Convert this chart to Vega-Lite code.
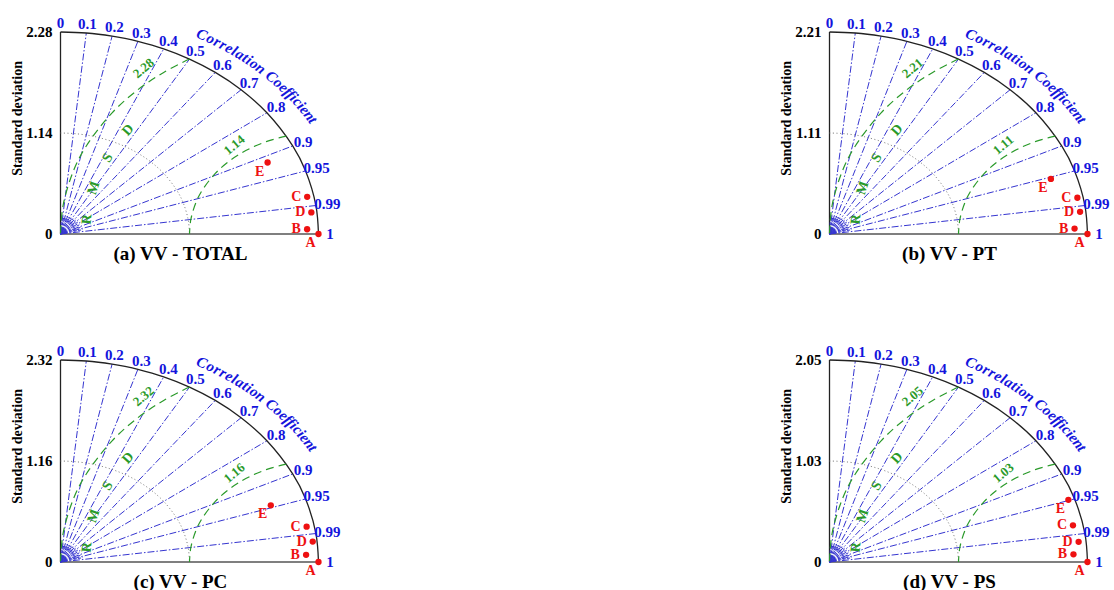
{
 "$schema": "https://vega.github.io/schema/vega-lite/v6.json",
 "background": "white",
 "padding": {"left": 10.5, "top": 15, "right": 5, "bottom": 5},
 "datasets": {
  "panels": [
   {"panel": "(a) VV - TOTAL", "S": 2.28, "half": 1.14},
   {"panel": "(b) VV - PT", "S": 2.21, "half": 1.11},
   {"panel": "(c) VV - PC", "S": 2.32, "half": 1.16},
   {"panel": "(d) VV - PS", "S": 2.05, "half": 1.03}
  ],
  "main": [
   {"kind": "tick", "c": 0, "panel": ["(a) VV - TOTAL", "(b) VV - PT", "(c) VV - PC", "(d) VV - PS"]},
   {"kind": "tick", "c": 0.1, "panel": ["(a) VV - TOTAL", "(b) VV - PT", "(c) VV - PC", "(d) VV - PS"]},
   {"kind": "tick", "c": 0.2, "panel": ["(a) VV - TOTAL", "(b) VV - PT", "(c) VV - PC", "(d) VV - PS"]},
   {"kind": "tick", "c": 0.3, "panel": ["(a) VV - TOTAL", "(b) VV - PT", "(c) VV - PC", "(d) VV - PS"]},
   {"kind": "tick", "c": 0.4, "panel": ["(a) VV - TOTAL", "(b) VV - PT", "(c) VV - PC", "(d) VV - PS"]},
   {"kind": "tick", "c": 0.5, "panel": ["(a) VV - TOTAL", "(b) VV - PT", "(c) VV - PC", "(d) VV - PS"]},
   {"kind": "tick", "c": 0.6, "panel": ["(a) VV - TOTAL", "(b) VV - PT", "(c) VV - PC", "(d) VV - PS"]},
   {"kind": "tick", "c": 0.7, "panel": ["(a) VV - TOTAL", "(b) VV - PT", "(c) VV - PC", "(d) VV - PS"]},
   {"kind": "tick", "c": 0.8, "panel": ["(a) VV - TOTAL", "(b) VV - PT", "(c) VV - PC", "(d) VV - PS"]},
   {"kind": "tick", "c": 0.9, "panel": ["(a) VV - TOTAL", "(b) VV - PT", "(c) VV - PC", "(d) VV - PS"]},
   {"kind": "tick", "c": 0.95, "panel": ["(a) VV - TOTAL", "(b) VV - PT", "(c) VV - PC", "(d) VV - PS"]},
   {"kind": "tick", "c": 0.99, "panel": ["(a) VV - TOTAL", "(b) VV - PT", "(c) VV - PC", "(d) VV - PS"]},
   {"kind": "tick", "c": 1, "panel": ["(a) VV - TOTAL", "(b) VV - PT", "(c) VV - PC", "(d) VV - PS"]},
   {"kind": "node", "c": 0.25, "panel": ["(a) VV - TOTAL", "(b) VV - PT", "(c) VV - PC", "(d) VV - PS"]},
   {"kind": "minor", "c": 0.05, "panel": ["(a) VV - TOTAL", "(b) VV - PT", "(c) VV - PC", "(d) VV - PS"]},
   {"kind": "minor", "c": 0.15, "panel": ["(a) VV - TOTAL", "(b) VV - PT", "(c) VV - PC", "(d) VV - PS"]},
   {"kind": "minor", "c": 0.25, "panel": ["(a) VV - TOTAL", "(b) VV - PT", "(c) VV - PC", "(d) VV - PS"]},
   {"kind": "minor", "c": 0.35, "panel": ["(a) VV - TOTAL", "(b) VV - PT", "(c) VV - PC", "(d) VV - PS"]},
   {"kind": "minor", "c": 0.45, "panel": ["(a) VV - TOTAL", "(b) VV - PT", "(c) VV - PC", "(d) VV - PS"]},
   {"kind": "minor", "c": 0.55, "panel": ["(a) VV - TOTAL", "(b) VV - PT", "(c) VV - PC", "(d) VV - PS"]},
   {"kind": "minor", "c": 0.65, "panel": ["(a) VV - TOTAL", "(b) VV - PT", "(c) VV - PC", "(d) VV - PS"]},
   {"kind": "minor", "c": 0.75, "panel": ["(a) VV - TOTAL", "(b) VV - PT", "(c) VV - PC", "(d) VV - PS"]},
   {"kind": "minor", "c": 0.85, "panel": ["(a) VV - TOTAL", "(b) VV - PT", "(c) VV - PC", "(d) VV - PS"]},
   {"kind": "minor", "c": 0.92, "panel": ["(a) VV - TOTAL", "(b) VV - PT", "(c) VV - PC", "(d) VV - PS"]},
   {"kind": "minor", "c": 0.97, "panel": ["(a) VV - TOTAL", "(b) VV - PT", "(c) VV - PC", "(d) VV - PS"]},
   {"kind": "cc", "s": "Correlation Coefficient", "panel": ["(a) VV - TOTAL", "(b) VV - PT", "(c) VV - PC", "(d) VV - PS"]},
   {"kind": "rm", "s": "RMSD", "panel": ["(a) VV - TOTAL", "(b) VV - PT", "(c) VV - PC", "(d) VV - PS"]},
   {"kind": "panel", "panel": ["(a) VV - TOTAL"]},
   {"kind": "panel", "panel": ["(b) VV - PT"]},
   {"kind": "panel", "panel": ["(c) VV - PC"]},
   {"kind": "panel", "panel": ["(d) VV - PS"]},
   {"kind": "pt", "panel": ["(a) VV - TOTAL"], "model": "A", "sd": 2.28, "corr": 1},
   {"kind": "pt", "panel": ["(a) VV - TOTAL"], "model": "B", "sd": 2.18, "corr": 0.9997},
   {"kind": "pt", "panel": ["(a) VV - TOTAL"], "model": "C", "sd": 2.22, "corr": 0.982},
   {"kind": "pt", "panel": ["(a) VV - TOTAL"], "model": "D", "sd": 2.23, "corr": 0.994},
   {"kind": "pt", "panel": ["(a) VV - TOTAL"], "model": "E", "sd": 2.0, "corr": 0.915},
   {"kind": "pt", "panel": ["(b) VV - PT"], "model": "A", "sd": 2.21, "corr": 1},
   {"kind": "pt", "panel": ["(b) VV - PT"], "model": "B", "sd": 2.1, "corr": 0.9996},
   {"kind": "pt", "panel": ["(b) VV - PT"], "model": "C", "sd": 2.16, "corr": 0.983},
   {"kind": "pt", "panel": ["(b) VV - PT"], "model": "D", "sd": 2.16, "corr": 0.9937},
   {"kind": "pt", "panel": ["(b) VV - PT"], "model": "E", "sd": 1.99, "corr": 0.953},
   {"kind": "pt", "panel": ["(c) VV - PC"], "model": "A", "sd": 2.32, "corr": 1},
   {"kind": "pt", "panel": ["(c) VV - PC"], "model": "B", "sd": 2.21, "corr": 0.9993},
   {"kind": "pt", "panel": ["(c) VV - PC"], "model": "C", "sd": 2.25, "corr": 0.9836},
   {"kind": "pt", "panel": ["(c) VV - PC"], "model": "D", "sd": 2.28, "corr": 0.9947},
   {"kind": "pt", "panel": ["(c) VV - PC"], "model": "E", "sd": 2.0, "corr": 0.9455},
   {"kind": "pt", "panel": ["(d) VV - PS"], "model": "A", "sd": 2.05, "corr": 1},
   {"kind": "pt", "panel": ["(d) VV - PS"], "model": "B", "sd": 1.94, "corr": 0.9992},
   {"kind": "pt", "panel": ["(d) VV - PS"], "model": "C", "sd": 1.97, "corr": 0.982},
   {"kind": "pt", "panel": ["(d) VV - PS"], "model": "D", "sd": 1.99, "corr": 0.9947},
   {"kind": "pt", "panel": ["(d) VV - PS"], "model": "E", "sd": 2.0, "corr": 0.949}
  ]
 },
 "data": {"name": "main"},
 "transform": [
  {"flatten": ["panel"]},
  {"lookup": "panel", "from": {"data": {"name": "panels"}, "key": "panel", "fields": ["S", "half"]}},
  {"calculate": "0", "as": "z0"},
  {"calculate": "1", "as": "z1"}
 ],
 "facet": {"field": "panel", "type": "nominal", "header": {"title": null, "labelExpr": "''", "labelOrient": "bottom", "labelPadding": 0, "labelFontSize": 1}},
 "columns": 2,
 "spacing": {"row": 126, "column": 511},
 "bounds": "flush",
 "spec": {
  "width": 258,
  "height": 202,
  "layer": [
   {
    "transform": [{"filter": "datum.kind == 'panel'"}],
    "mark": {"type": "rule", "color": "#222222", "strokeWidth": 1.3},
    "encoding": {
     "x": {"field": "z0", "type": "quantitative", "scale": {"domain": [0, 1], "nice": false}, "axis": null},
     "y": {"field": "z0", "type": "quantitative", "scale": {"domain": [0, 1], "nice": false}, "axis": null},
     "y2": {"field": "z1"}
    }
   },
   {
    "transform": [{"filter": "datum.kind == 'panel'"}],
    "mark": {"type": "rule", "color": "#555555", "strokeWidth": 1.3},
    "encoding": {
     "x": {"field": "z0", "type": "quantitative", "axis": null},
     "x2": {"field": "z1"},
     "y": {"field": "z0", "type": "quantitative", "axis": null}
    }
   },
   {
    "transform": [{"filter": "datum.kind == 'tick' && datum.c > 0 && datum.c < 1"}, {"calculate": "sqrt(1 - datum.c * datum.c)", "as": "s"}],
    "mark": {"type": "rule", "color": "#3535d0", "strokeWidth": 1, "strokeDash": [7, 2, 1.5, 2]},
    "encoding": {
     "x": {"field": "z0", "type": "quantitative", "axis": null},
     "y": {"field": "z0", "type": "quantitative", "axis": null},
     "x2": {"field": "c"},
     "y2": {"field": "s"}
    }
   },
   {
    "transform": [{"filter": "datum.kind == 'minor'"}, {"calculate": "0.09 * datum.c", "as": "mx"}, {"calculate": "0.09 * sqrt(1 - datum.c * datum.c)", "as": "my"}],
    "mark": {"type": "rule", "color": "#3535d0", "strokeWidth": 1, "strokeDash": [3, 1.5]},
    "encoding": {
     "x": {"field": "z0", "type": "quantitative", "axis": null},
     "y": {"field": "z0", "type": "quantitative", "axis": null},
     "x2": {"field": "mx"},
     "y2": {"field": "my"}
    }
   },
   {
    "transform": [{"filter": "datum.kind == 'tick' || datum.kind == 'node'"}, {"calculate": "sqrt(1 - datum.c * datum.c)", "as": "s"}],
    "mark": {"type": "line", "color": "#222222", "strokeWidth": 1.3, "interpolate": "catmull-rom"},
    "encoding": {
     "x": {"field": "c", "type": "quantitative", "axis": null},
     "y": {"field": "s", "type": "quantitative", "axis": null},
     "order": {"field": "c", "type": "quantitative"}
    }
   },
   {
    "transform": [{"filter": "datum.kind == 'tick' || datum.kind == 'node'"}, {"calculate": "0.5 * datum.c", "as": "hx"}, {"calculate": "0.5 * sqrt(1 - datum.c * datum.c)", "as": "hy"}],
    "mark": {"type": "line", "color": "#777777", "strokeWidth": 1, "strokeDash": [1, 2.5], "interpolate": "catmull-rom"},
    "encoding": {
     "x": {"field": "hx", "type": "quantitative", "axis": null},
     "y": {"field": "hy", "type": "quantitative", "axis": null},
     "order": {"field": "c", "type": "quantitative"}
    }
   },
   {
    "transform": [{"filter": "(datum.kind == 'tick' || datum.kind == 'node') && datum.c >= 0.5"}, {"calculate": "1 - datum.c", "as": "gx"}, {"calculate": "sqrt(1 - datum.c * datum.c)", "as": "gy"}],
    "mark": {"type": "line", "color": "#2a9a2a", "strokeWidth": 1.2, "strokeDash": [8, 5], "interpolate": "catmull-rom"},
    "encoding": {
     "x": {"field": "gx", "type": "quantitative", "axis": null},
     "y": {"field": "gy", "type": "quantitative", "axis": null},
     "order": {"field": "c", "type": "quantitative"}
    }
   },
   {
    "transform": [{"filter": "(datum.kind == 'tick' || datum.kind == 'node') && datum.c >= 0.25"}, {"calculate": "1 - 0.5 * datum.c", "as": "gx"}, {"calculate": "0.5 * sqrt(1 - datum.c * datum.c)", "as": "gy"}],
    "mark": {"type": "line", "color": "#2a9a2a", "strokeWidth": 1.2, "strokeDash": [8, 5], "interpolate": "catmull-rom"},
    "encoding": {
     "x": {"field": "gx", "type": "quantitative", "axis": null},
     "y": {"field": "gy", "type": "quantitative", "axis": null},
     "order": {"field": "c", "type": "quantitative"}
    }
   },
   {
    "transform": [{"filter": "datum.kind == 'tick'"}, {"calculate": "1.045 * datum.c", "as": "lx"}, {"calculate": "1.045 * sqrt(1 - datum.c * datum.c)", "as": "ly"}, {"calculate": "'' + datum.c", "as": "ct"}],
    "mark": {"type": "text", "color": "#1414dc", "font": "Liberation Serif", "fontSize": 15, "fontWeight": "bold", "align": "center", "baseline": "middle"},
    "encoding": {
     "x": {"field": "lx", "type": "quantitative", "axis": null},
     "y": {"field": "ly", "type": "quantitative", "axis": null},
     "text": {"field": "ct", "type": "nominal"}
    }
   },
   {
    "transform": [
     {"filter": "datum.kind == 'cc'"},
     {"calculate": "split(datum.s, '')", "as": "ch"},
     {"flatten": ["ch"]},
     {"window": [{"op": "row_number", "as": "idx"}], "groupby": ["panel"]},
     {"calculate": "datum.ch == 'C' ? 0.67 : (indexof('ltif', datum.ch) >= 0 ? 0.28 : (datum.ch == ' ' ? 0.25 : (datum.ch == 'r' ? 0.39 : (indexof('ec', datum.ch) >= 0 ? 0.44 : 0.5))))", "as": "w"},
     {"window": [{"op": "sum", "field": "w", "as": "cum"}], "groupby": ["panel"], "sort": [{"field": "idx"}], "frame": [null, 0]},
     {"joinaggregate": [{"op": "sum", "field": "w", "as": "total"}], "groupby": ["panel"]},
     {"calculate": "(62.2 - 32.7 * (datum.cum - datum.w / 2) / datum.total) * PI / 180", "as": "th"},
     {"calculate": "1.13 * cos(datum.th)", "as": "tx"},
     {"calculate": "1.13 * sin(datum.th)", "as": "ty"},
     {"calculate": "atan2(202 * cos(datum.th), 257.5 * sin(datum.th)) * 180 / PI", "as": "ang"}
    ],
    "mark": {"type": "text", "color": "#1414dc", "font": "Liberation Serif", "fontSize": 15, "fontWeight": "bold", "fontStyle": "italic", "align": "center", "baseline": "middle"},
    "encoding": {
     "x": {"field": "tx", "type": "quantitative", "axis": null},
     "y": {"field": "ty", "type": "quantitative", "axis": null},
     "angle": {"field": "ang", "type": "quantitative", "scale": null},
     "text": {"field": "ch", "type": "nominal"}
    }
   },
   {
    "transform": [
     {"filter": "datum.kind == 'rm'"},
     {"calculate": "split(datum.s, '')", "as": "ch"},
     {"flatten": ["ch"]},
     {"window": [{"op": "row_number", "as": "idx"}], "groupby": ["panel"]},
     {"calculate": "(4.6 + 10.1 * (datum.idx - 1)) * PI / 180", "as": "ph"},
     {"calculate": "1 - 0.9 * cos(datum.ph)", "as": "rx"},
     {"calculate": "0.9 * sin(datum.ph)", "as": "ry"},
     {"calculate": "atan2(-202 * cos(datum.ph), 257.5 * sin(datum.ph)) * 180 / PI", "as": "ang"}
    ],
    "mark": {"type": "text", "color": "#2a9a2a", "font": "Liberation Serif", "fontSize": 14, "fontWeight": "bold", "align": "center", "baseline": "middle"},
    "encoding": {
     "x": {"field": "rx", "type": "quantitative", "axis": null},
     "y": {"field": "ry", "type": "quantitative", "axis": null},
     "angle": {"field": "ang", "type": "quantitative", "scale": null},
     "text": {"field": "ch", "type": "nominal"}
    }
   },
   {
    "transform": [{"filter": "datum.kind == 'panel'"}, {"calculate": "0.322", "as": "qx"}, {"calculate": "0.82", "as": "qy"}],
    "mark": {"type": "text", "color": "#2a9a2a", "font": "Liberation Serif", "fontSize": 13, "fontWeight": "bold", "align": "center", "baseline": "middle", "angle": 320},
    "encoding": {
     "x": {"field": "qx", "type": "quantitative", "axis": null},
     "y": {"field": "qy", "type": "quantitative", "axis": null},
     "text": {"field": "S", "type": "quantitative", "format": ".2f"}
    }
   },
   {
    "transform": [{"filter": "datum.kind == 'panel'"}, {"calculate": "0.674", "as": "qx"}, {"calculate": "0.44", "as": "qy"}],
    "mark": {"type": "text", "color": "#2a9a2a", "font": "Liberation Serif", "fontSize": 13, "fontWeight": "bold", "align": "center", "baseline": "middle", "angle": 320},
    "encoding": {
     "x": {"field": "qx", "type": "quantitative", "axis": null},
     "y": {"field": "qy", "type": "quantitative", "axis": null},
     "text": {"field": "half", "type": "quantitative", "format": ".2f"}
    }
   },
   {
    "transform": [{"filter": "datum.kind == 'panel'"}],
    "mark": {"type": "text", "color": "#000000", "font": "Liberation Serif", "fontSize": 15, "fontWeight": "bold", "align": "right", "baseline": "middle", "dx": -8},
    "encoding": {
     "x": {"field": "z0", "type": "quantitative", "axis": null},
     "y": {"field": "z1", "type": "quantitative", "axis": null},
     "text": {"field": "S", "type": "quantitative", "format": ".2f"}
    }
   },
   {
    "transform": [{"filter": "datum.kind == 'panel'"}, {"calculate": "0.5", "as": "qy"}],
    "mark": {"type": "text", "color": "#000000", "font": "Liberation Serif", "fontSize": 15, "fontWeight": "bold", "align": "right", "baseline": "middle", "dx": -8},
    "encoding": {
     "x": {"field": "z0", "type": "quantitative", "axis": null},
     "y": {"field": "qy", "type": "quantitative", "axis": null},
     "text": {"field": "half", "type": "quantitative", "format": ".2f"}
    }
   },
   {
    "transform": [{"filter": "datum.kind == 'panel'"}],
    "mark": {"type": "text", "color": "#000000", "font": "Liberation Serif", "fontSize": 15, "fontWeight": "bold", "align": "right", "baseline": "middle", "dx": -8, "text": "0"},
    "encoding": {
     "x": {"field": "z0", "type": "quantitative", "axis": null},
     "y": {"field": "z0", "type": "quantitative", "axis": null}
    }
   },
   {
    "transform": [{"filter": "datum.kind == 'panel'"}, {"calculate": "-0.163", "as": "qx"}, {"calculate": "0.572", "as": "qy"}],
    "mark": {"type": "text", "color": "#000000", "font": "Liberation Serif", "fontSize": 14, "fontWeight": "bold", "align": "center", "baseline": "middle", "angle": 270, "text": "Standard deviation"},
    "encoding": {
     "x": {"field": "qx", "type": "quantitative", "axis": null},
     "y": {"field": "qy", "type": "quantitative", "axis": null}
    }
   },
   {
    "transform": [{"filter": "datum.kind == 'panel'"}, {"calculate": "0.465", "as": "qx"}, {"calculate": "-0.1", "as": "qy"}],
    "mark": {"type": "text", "color": "#000000", "font": "Liberation Serif", "fontSize": 19, "fontWeight": "bold", "align": "center", "baseline": "middle"},
    "encoding": {
     "x": {"field": "qx", "type": "quantitative", "axis": null},
     "y": {"field": "qy", "type": "quantitative", "axis": null},
     "text": {"field": "panel", "type": "nominal"}
    }
   },
   {
    "transform": [{"filter": "datum.kind == 'pt'"}, {"calculate": "datum.sd / datum.S * datum.corr", "as": "px"}, {"calculate": "datum.sd / datum.S * sqrt(1 - datum.corr * datum.corr)", "as": "py"}],
    "mark": {"type": "point", "filled": true, "shape": "circle", "color": "#ee1111", "size": 40, "opacity": 1},
    "encoding": {
     "x": {"field": "px", "type": "quantitative", "axis": null},
     "y": {"field": "py", "type": "quantitative", "axis": null}
    }
   },
   {
    "transform": [{"filter": "datum.kind == 'pt' && indexof(['B','C','D'], datum.model) >= 0"}, {"calculate": "datum.sd / datum.S * datum.corr", "as": "px"}, {"calculate": "datum.sd / datum.S * sqrt(1 - datum.corr * datum.corr)", "as": "py"}],
    "mark": {"type": "text", "color": "#ee1111", "font": "Liberation Serif", "fontSize": 14, "fontWeight": "bold", "align": "center", "baseline": "middle", "dx": -11},
    "encoding": {
     "x": {"field": "px", "type": "quantitative", "axis": null},
     "y": {"field": "py", "type": "quantitative", "axis": null},
     "text": {"field": "model", "type": "nominal"}
    }
   },
   {
    "transform": [{"filter": "datum.kind == 'pt' && indexof(['A','E'], datum.model) >= 0"}, {"calculate": "datum.sd / datum.S * datum.corr", "as": "px"}, {"calculate": "datum.sd / datum.S * sqrt(1 - datum.corr * datum.corr)", "as": "py"}],
    "mark": {"type": "text", "color": "#ee1111", "font": "Liberation Serif", "fontSize": 14, "fontWeight": "bold", "align": "center", "baseline": "middle", "dx": -8, "dy": 9},
    "encoding": {
     "x": {"field": "px", "type": "quantitative", "axis": null},
     "y": {"field": "py", "type": "quantitative", "axis": null},
     "text": {"field": "model", "type": "nominal"}
    }
   }
  ]
 },
 "config": {"view": {"stroke": null}, "font": "Liberation Serif"}
}
